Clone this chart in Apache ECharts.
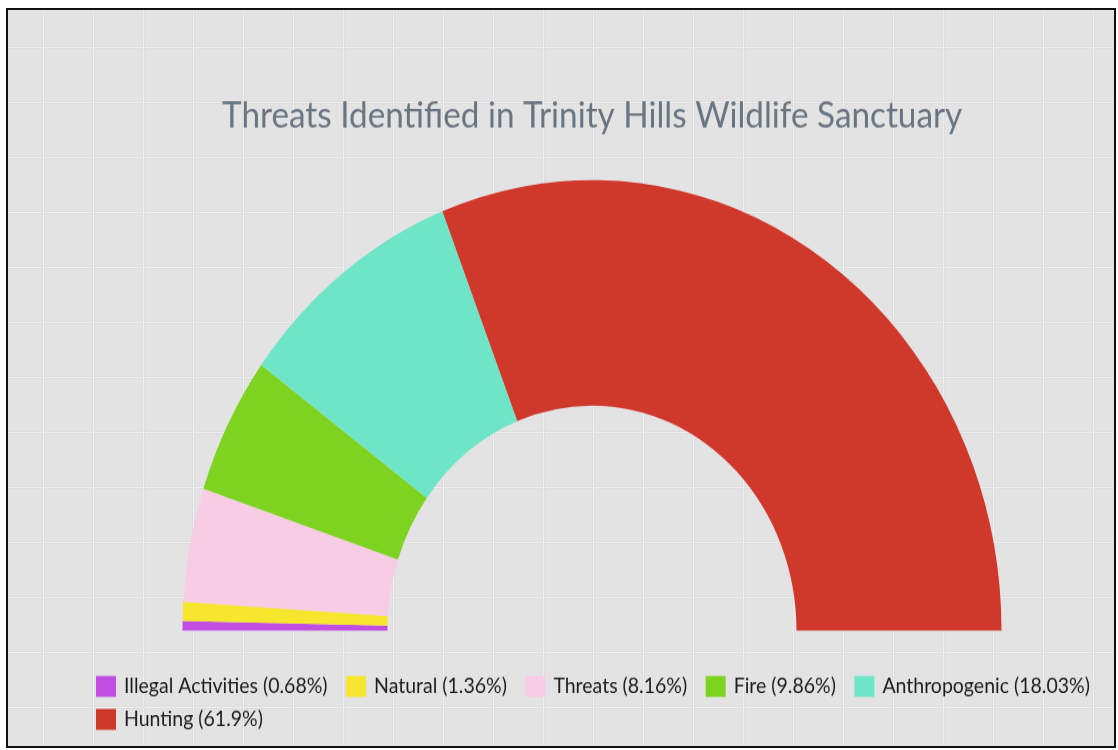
<!DOCTYPE html>
<html>
<head>
<meta charset="utf-8">
<script src="https://cdn.jsdelivr.net/npm/echarts@6/dist/echarts.min.js"></script>
<style>
  html, body { margin: 0; padding: 0; background: #ffffff; width: 1118px; height: 750px; overflow: hidden; }
  #frame {
    position: absolute; left: 6px; top: 8px; width: 1106px; height: 736px;
    border: 2px solid #111;
    background-color: #e3e3e3;
    background-image:
      linear-gradient(to right, transparent 0px, transparent 34px, #cfcfcf 34px, #eeeeee 35px, #eeeeee 36px, #cfcfcf 37px, transparent 37px),
      linear-gradient(to bottom, transparent 0px, transparent 36px, #cfcfcf 36px, #eeeeee 37px, #eeeeee 38px, #cfcfcf 39px, transparent 39px);
    background-size: 50px 100%, 100% 55px;
    background-position: 0 0, 0 0;
  }
  #chart {
    position: absolute; left: 0; top: 0; width: 1118px; height: 682px;
    transform: scaleY(1.1); transform-origin: 0 0;
  }
</style>
</head>
<body>
<div id="frame"></div>
<div id="chart"></div>
<script>
const titleText = 'Threats Identified in Trinity Hills Wildlife Sanctuary';
const categories = ['Illegal Activities', 'Natural', 'Threats', 'Fire', 'Anthropogenic', 'Hunting'];
const counts = [2, 4, 24, 29, 53, 182];
const colors = ['#c04ee0', '#f7e62e', '#f7cce4', '#7ed321', '#6ee5c6', '#d0382c'];

const total = counts.reduce((a, b) => a + b, 0);
const pct = {};
categories.forEach((c, i) => { pct[c] = parseFloat((counts[i] / total * 100).toFixed(2)); });

const chart = echarts.init(document.getElementById('chart'), null, { renderer: 'canvas' });
chart.setOption({
  backgroundColor: 'transparent',
  animation: false,
  color: colors,
  title: {
    text: titleText,
    left: 222,
    top: 88.5,
    padding: 0,
    textStyle: { fontFamily: 'Lato', fontSize: 33.3, fontWeight: 'normal', color: '#6a7582' }
  },
  legend: {
    left: 96,
    top: 614,
    padding: 0,
    width: 1015,
    itemWidth: 20,
    itemHeight: 19,
    itemGap: 10,
    icon: 'rect',
    data: categories,
    formatter: name => name + ' (' + pct[name] + '%)',
    textStyle: { fontFamily: 'Lato', fontSize: 19.5, color: '#1c1c1c', lineHeight: 20, padding: [0, 8.5, 0, 3] }
  },
  series: [{
    type: 'pie',
    center: [592, 573.2],
    radius: [204.5, 409.5],
    startAngle: 180,
    endAngle: 0,
    clockwise: true,
    label: { show: false },
    labelLine: { show: false },
    emphasis: { disabled: true },
    itemStyle: { borderWidth: 0 },
    data: categories.map((c, i) => ({ name: c, value: counts[i] }))
  }]
});
</script>
</body>
</html>
